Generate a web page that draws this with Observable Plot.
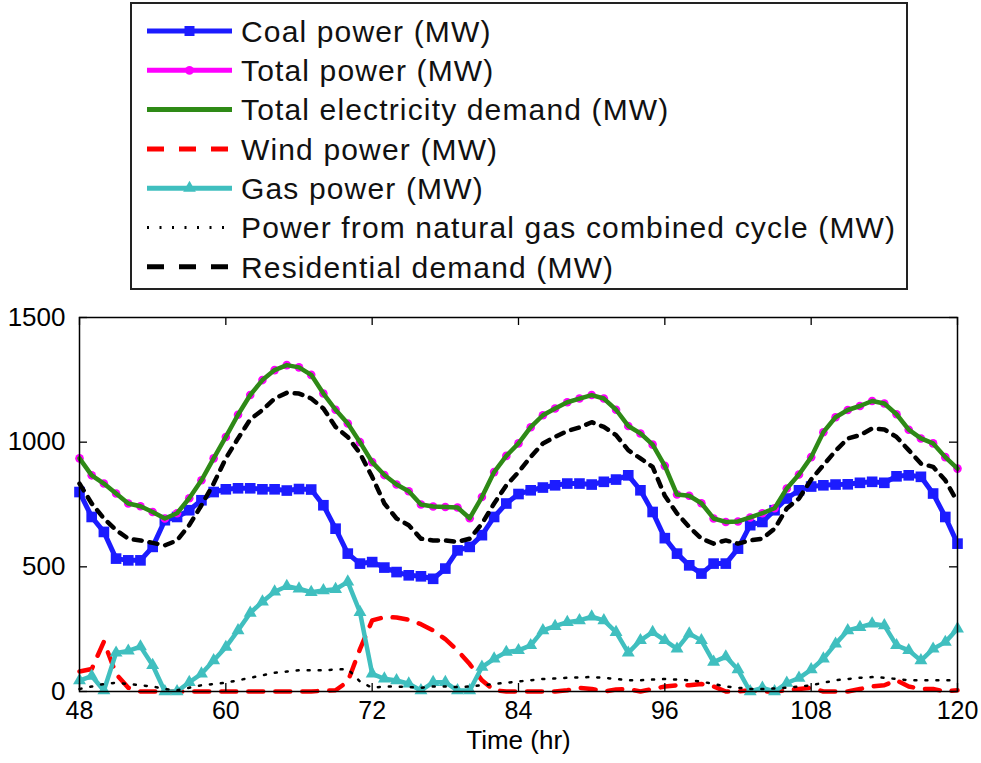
<!DOCTYPE html>
<html>
<head>
<meta charset="utf-8">
<script src="https://cdn.jsdelivr.net/npm/d3@7"></script>
<script src="https://cdn.jsdelivr.net/npm/@observablehq/plot@0.6"></script>
<style>
  body { margin: 0; background: #fff; width: 981px; height: 763px; overflow: hidden; font-family: "Liberation Sans", Arial, sans-serif; }
  #legend { position: absolute; left: 0; top: 0; }
  #chart { position: absolute; left: 0; top: 290px; }
</style>
</head>
<body>
<div id="legend"></div>
<div id="chart"></div>
<script>
const hours = [48,49,50,51,52,53,54,55,56,57,58,59,60,61,62,63,64,65,66,67,68,69,70,71,72,73,74,75,76,77,78,79,80,81,82,83,84,85,86,87,88,89,90,91,92,93,94,95,96,97,98,99,100,101,102,103,104,105,106,107,108,109,110,111,112,113,114,115,116,117,118,119,120];

const coalPower = [800,700,640,533,526,526,580,687,700,727,767,800,811,815,815,811,811,806,812,810,747,653,553,513,519,497,479,466,462,452,493,566,580,627,700,754,792,807,818,827,834,834,830,841,850,867,807,720,615,553,506,473,513,513,573,667,680,727,774,807,822,827,830,831,837,841,837,863,867,861,794,700,593];

const totalPower = [935,867,834,794,754,743,720,694,715,775,847,935,1021,1110,1189,1249,1289,1309,1300,1270,1195,1130,1075,1000,920,868,830,803,750,742,740,738,695,780,880,945,995,1060,1108,1135,1160,1175,1189,1175,1130,1065,1035,990,905,790,785,755,694,680,682,698,715,735,814,870,940,1040,1100,1129,1145,1165,1155,1112,1050,1015,995,940,894];

const totalDemand = [935,867,834,794,754,743,720,694,715,775,847,935,1021,1110,1189,1249,1289,1309,1300,1270,1195,1130,1075,1000,920,868,830,803,750,742,740,738,695,780,880,945,995,1060,1108,1135,1160,1175,1189,1175,1130,1065,1035,990,905,790,785,755,694,680,682,698,715,735,814,870,940,1040,1100,1129,1145,1165,1155,1112,1050,1015,995,940,894];

const windPower = [80,90,200,70,15,0,0,0,0,0,0,0,0,0,0,0,0,0,0,0,3,5,40,170,285,298,297,288,270,245,210,165,110,45,5,0,0,0,0,0,5,15,10,0,8,10,0,10,20,25,25,30,20,0,0,5,0,0,5,10,15,0,0,0,10,20,25,45,20,10,10,0,5];

const gasPower = [44,62,4,155,163,180,105,0,0,37,71,124,178,245,315,360,400,422,412,398,405,410,440,318,71,51,44,31,4,37,37,4,4,98,131,158,165,185,245,262,278,285,300,285,238,155,205,238,205,171,232,205,118,140,88,0,14,0,34,54,88,131,191,245,258,272,265,185,165,124,171,198,252];

const ngccPower = [10,20,30,35,30,25,20,10,5,15,25,30,35,45,55,65,75,80,85,85,85,88,90,40,15,20,20,18,15,20,20,18,20,25,30,35,40,45,50,52,55,57,58,55,50,45,45,48,50,48,45,40,30,20,15,10,10,12,15,20,25,35,45,50,55,58,55,50,45,45,45,45,45];

const residentialDemand = [834,754,694,647,613,606,596,586,606,667,747,834,935,1015,1091,1129,1175,1198,1195,1175,1135,1061,1021,955,861,754,694,667,613,606,606,600,613,673,754,827,880,941,995,1021,1045,1059,1080,1061,1028,968,935,901,785,714,660,613,593,606,593,606,613,653,734,774,850,908,965,1015,1028,1055,1051,1021,968,914,901,847,760];

const xTicks = [48,60,72,84,96,108,120];
const yTicks = [0,500,1000,1500];
const seriesNames = [
  "Coal power (MW)",
  "Total power (MW)",
  "Total electricity demand (MW)",
  "Wind power (MW)",
  "Gas power (MW)",
  "Power from natural gas combined cycle (MW)",
  "Residential demand (MW)"
];
const xLabel = "Time (hr)";

// styles
const BLUE = "#1c1cff", MAGENTA = "#ff00ff", GREEN = "#2e8a16", RED = "#ff0000", TEAL = "#40bfbf", BLACK = "#000000";
const styles = [
  {stroke: BLUE, width: 5, dash: null, symbol: "square"},
  {stroke: MAGENTA, width: 5, dash: null, symbol: "circle"},
  {stroke: GREEN, width: 5, dash: null, symbol: null},
  {stroke: RED, width: 5, dash: "17,15", symbol: null},
  {stroke: TEAL, width: 5, dash: null, symbol: "triangle"},
  {stroke: BLACK, width: 3, dash: "2,10.5", symbol: null},
  {stroke: BLACK, width: 5, dash: "17,15", symbol: null}
];

const FONT = "'Liberation Sans', Arial, sans-serif";

// ----- Legend (above the chart) -----
const lg = d3.select("#legend").append("svg")
  .attr("width", 981).attr("height", 290)
  .style("font-family", FONT);
lg.append("rect").attr("x", 131).attr("y", 3).attr("width", 776).attr("height", 286)
  .attr("fill", "white").attr("stroke", "#222").attr("stroke-width", 2);
seriesNames.forEach((name, i) => {
  const s = styles[i];
  const y = 31 + i * 39.3;
  const line = lg.append("line").attr("x1", 147).attr("x2", 232).attr("y1", y).attr("y2", y)
    .attr("stroke", s.stroke).attr("stroke-width", s.width);
  if (s.dash) line.attr("stroke-dasharray", s.dash);
  if (s.symbol) {
    const sym = s.symbol === "square" ? d3.symbolSquare : s.symbol === "triangle" ? d3.symbolTriangle : d3.symbolCircle;
    const size = s.symbol === "square" ? 100 : s.symbol === "triangle" ? 70 : 60;
    lg.append("path").attr("d", d3.symbol(sym, size)()).attr("transform", `translate(189.5,${y})`).attr("fill", s.stroke);
  }
  lg.append("text").attr("x", 241).attr("y", y).attr("dy", "0.36em")
    .attr("font-size", 30).attr("letter-spacing", "1.15px").attr("fill", "#111").text(name);
});

// ----- Chart -----
const rows = hours.map((h, i) => ({
  h,
  coal: coalPower[i],
  total: totalPower[i],
  demand: totalDemand[i],
  wind: windPower[i],
  gas: gasPower[i],
  ngcc: ngccPower[i],
  res: residentialDemand[i]
}));

const W = 981, H = 473, mT = 27, mB = 72, mL = 79, mR = 24;
const fw = W - mL - mR, fh = H - mT - mB;

const chart = Plot.plot({
  width: W, height: H,
  marginTop: mT, marginBottom: mB, marginLeft: mL, marginRight: mR,
  style: {fontFamily: FONT, background: "white", color: "black"},
  x: {domain: [48, 120]},
  y: {domain: [0, 1500]},
  marks: [
    Plot.line(rows, {x: "h", y: "coal", stroke: styles[0].stroke, strokeWidth: 5, strokeLinejoin: "miter"}),
    Plot.dot(rows, {x: "h", y: "coal", symbol: "square", r: 6, fill: styles[0].stroke, stroke: "none"}),
    Plot.line(rows, {x: "h", y: "total", stroke: styles[1].stroke, strokeWidth: 3}),
    Plot.dot(rows, {x: "h", y: "total", symbol: "circle", r: 4.3, fill: styles[1].stroke, stroke: "none"}),
    Plot.line(rows, {x: "h", y: "demand", stroke: styles[2].stroke, strokeWidth: 4.5}),
    Plot.line(rows, {x: "h", y: "wind", stroke: styles[3].stroke, strokeWidth: 4.5, strokeDasharray: "15,12"}),
    Plot.line(rows, {x: "h", y: "gas", stroke: styles[4].stroke, strokeWidth: 4.5}),
    Plot.dot(rows, {x: "h", y: "gas", symbol: "triangle", r: 4.8, fill: styles[4].stroke, stroke: "none"}),
    Plot.line(rows, {x: "h", y: "ngcc", stroke: "black", strokeWidth: 2.5, strokeDasharray: "2,9"}),
    Plot.line(rows, {x: "h", y: "res", stroke: "black", strokeWidth: 4.5, strokeDasharray: "8,8"}),
    Plot.frame({stroke: "black", strokeWidth: 1.5}),
    Plot.tickX(xTicks, {x: d => d, insetTop: fh - 8, stroke: "black", strokeWidth: 1.3}),
    Plot.tickX(xTicks, {x: d => d, insetBottom: fh - 8, stroke: "black", strokeWidth: 1.3}),
    Plot.tickY(yTicks, {y: d => d, insetRight: fw - 8, stroke: "black", strokeWidth: 1.3}),
    Plot.tickY(yTicks, {y: d => d, insetLeft: fw - 8, stroke: "black", strokeWidth: 1.3}),
    Plot.axisX(xTicks, {tickSize: 0, tickPadding: 10, fontSize: 25, tickFormat: d => String(d), label: null}),
    Plot.axisY(yTicks, {tickSize: 0, tickPadding: 14, fontSize: 26, tickFormat: d => String(d), label: null}),
    Plot.text([xLabel], {text: d => d, frameAnchor: "bottom", dy: 57, fontSize: 26, fill: "black"})
  ]
});
document.getElementById("chart").appendChild(chart);
</script>
</body>
</html>
